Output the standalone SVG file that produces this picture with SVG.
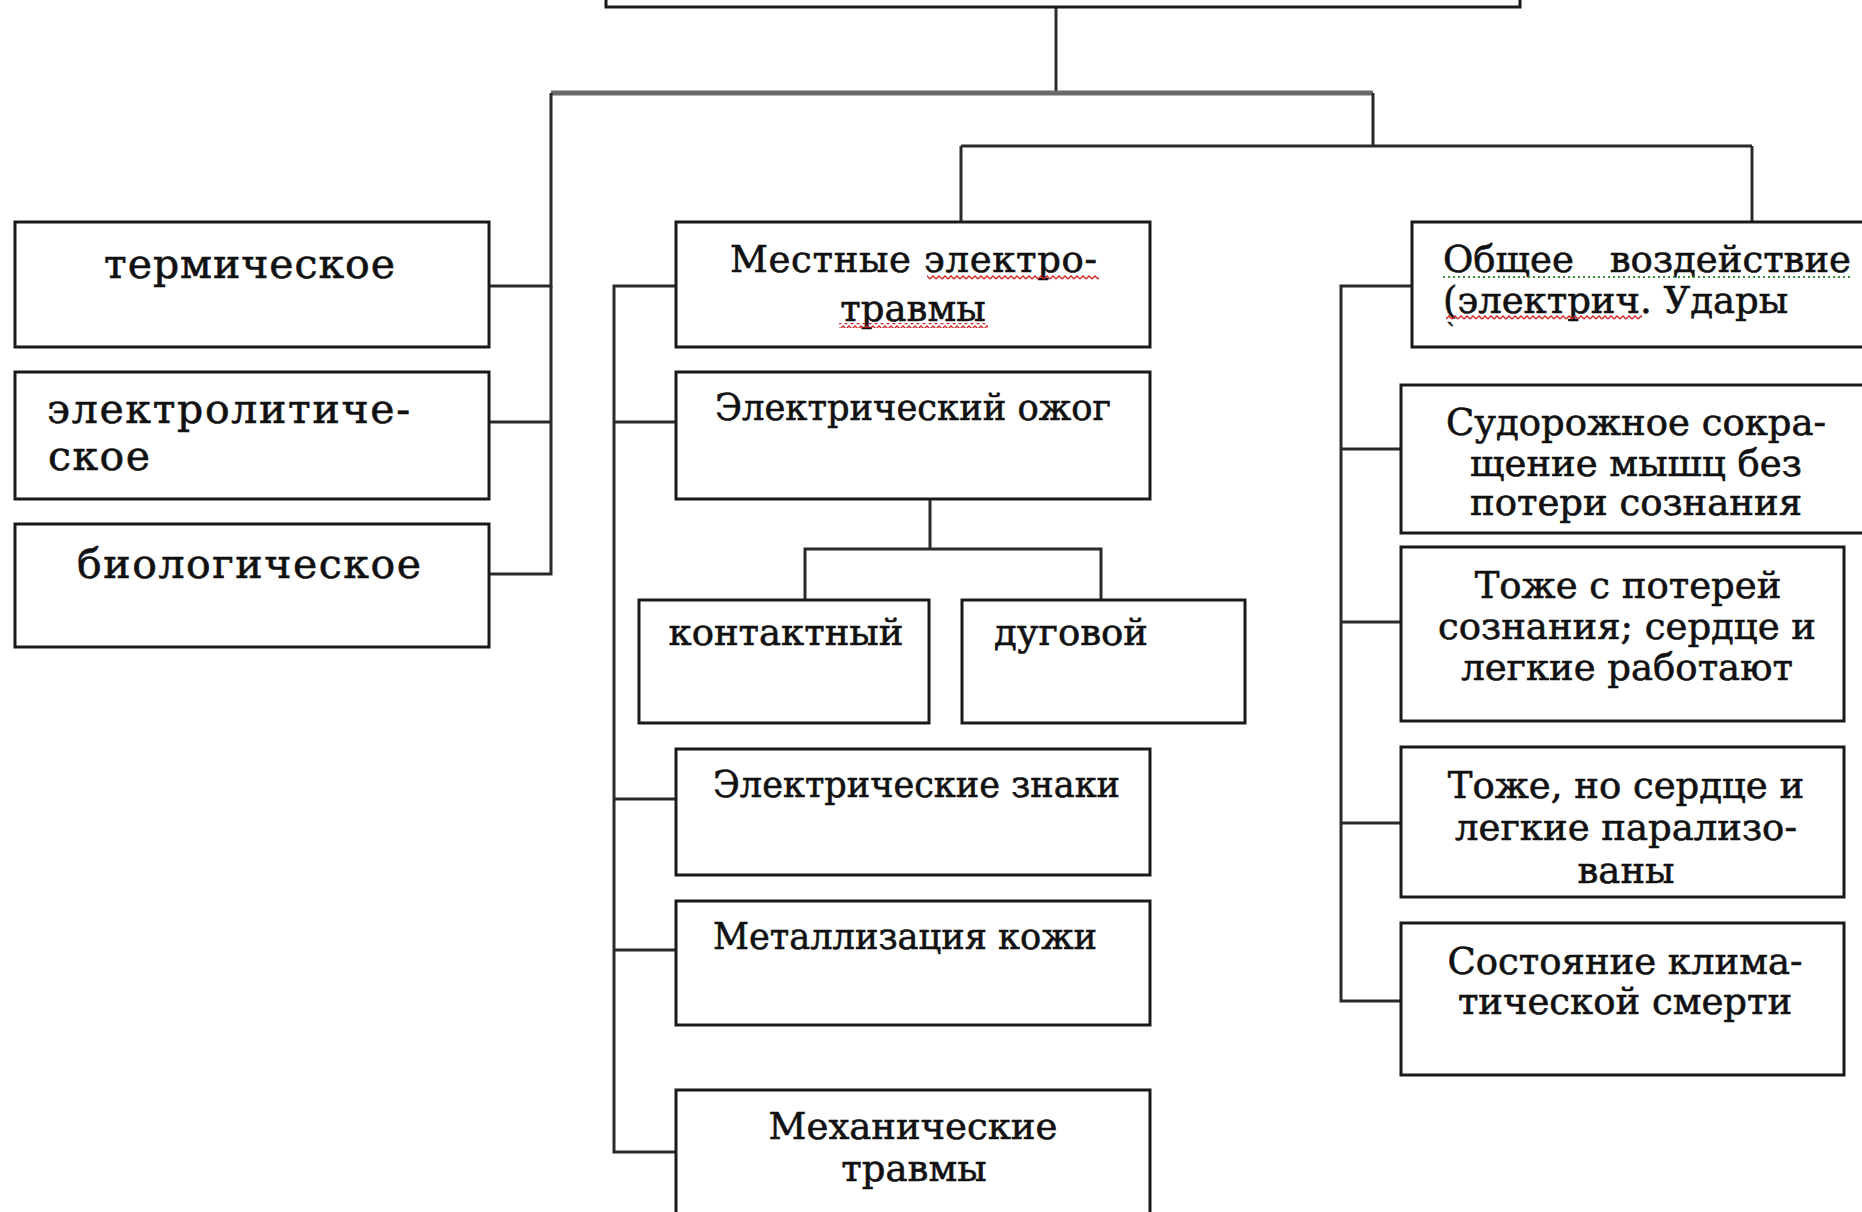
<svg xmlns="http://www.w3.org/2000/svg" width="1862" height="1212" viewBox="0 0 1862 1212">
<style>
.box{fill:#fff;stroke:#1a1a1a;stroke-width:3}
.ln{fill:none;stroke:#2a2a2a;stroke-width:3}
.lg{fill:none;stroke:#6a6a6a;stroke-width:5}
text{font-family:"DejaVu Serif","Liberation Serif",serif;font-size:37px;fill:#111;stroke:#111;stroke-width:0.6}
.big{font-size:41px}
.c{text-anchor:middle}
.e{text-anchor:end}
.red{fill:url(#wavyRed)}
.grn{fill:none;stroke:#3a8a3a;stroke-width:2;stroke-dasharray:2 3}
</style>
<defs>
<pattern id="wavyRed" width="6" height="5" patternUnits="userSpaceOnUse">
<path d="M0 4 L3 1 L6 4" fill="none" stroke="#d02020" stroke-width="1.3"/>
</pattern>
</defs>
<rect width="1862" height="1212" fill="#fff"/>
<g id="connectors">
<line class="ln" x1="1056" y1="7" x2="1056" y2="93"/>
<line class="lg" x1="551" y1="93" x2="1373" y2="93"/>
<polyline class="ln" points="489,286 551,286 551,93"/>
<polyline class="ln" points="489,422 551,422"/>
<polyline class="ln" points="489,574 551,574 551,286"/>
<line class="ln" x1="1373" y1="93" x2="1373" y2="146"/>
<line class="ln" x1="961" y1="146" x2="1752" y2="146"/>
<line class="ln" x1="961" y1="146" x2="961" y2="222"/>
<line class="ln" x1="1752" y1="146" x2="1752" y2="222"/>
<polyline class="ln" points="676,286 614,286 614,1152 676,1152"/>
<line class="ln" x1="614" y1="422" x2="676" y2="422"/>
<line class="ln" x1="614" y1="799" x2="676" y2="799"/>
<line class="ln" x1="614" y1="950" x2="676" y2="950"/>
<line class="ln" x1="930" y1="499" x2="930" y2="549"/>
<polyline class="ln" points="805,600 805,549 1101,549 1101,600"/>
<polyline class="ln" points="1412,286 1341,286 1341,1001 1401,1001"/>
<line class="ln" x1="1341" y1="449" x2="1401" y2="449"/>
<line class="ln" x1="1341" y1="622" x2="1401" y2="622"/>
<line class="ln" x1="1341" y1="823" x2="1401" y2="823"/>
</g>
<g id="top"><rect class="box" x="606" y="-20" width="914" height="27"/></g>
<g id="termicheskoe"><rect class="box" x="15" y="222" width="474" height="125"/><text class="big" x="104" y="278" textLength="291" lengthAdjust="spacing">термическое</text></g>
<g id="elektroliticheskoe"><rect class="box" x="15" y="372" width="474" height="127"/><text class="big" x="47" y="423" textLength="363" lengthAdjust="spacing">электролитиче-</text><text class="big" x="48" y="470" textLength="102" lengthAdjust="spacing">ское</text></g>
<g id="biologicheskoe"><rect class="box" x="15" y="524" width="474" height="123"/><text class="big" x="77" y="578" textLength="344" lengthAdjust="spacing">биологическое</text></g>
<g id="mestnye"><rect class="box" x="676" y="222" width="474" height="125"/><text x="730" y="272" textLength="367" lengthAdjust="spacing">Местные электро-</text><text class="c" x="913" y="321">травмы</text><rect class="red" x="927" y="275" width="172" height="5"/><rect class="red" x="839" y="323" width="149" height="5"/></g>
<g id="ozhog"><rect class="box" x="676" y="372" width="474" height="127"/><text x="715" y="420" textLength="396" lengthAdjust="spacingAndGlyphs">Электрический ожог</text></g>
<g id="kontaktny"><rect class="box" x="639" y="600" width="290" height="123"/><text class="c" x="786" y="645">контактный</text></g>
<g id="dugovoy"><rect class="box" x="962" y="600" width="283" height="123"/><text x="994" y="645">дуговой</text></g>
<g id="znaki"><rect class="box" x="676" y="749" width="474" height="126"/><text x="713" y="797" textLength="407" lengthAdjust="spacingAndGlyphs">Электрические знаки</text></g>
<g id="metallizatsiya"><rect class="box" x="676" y="901" width="474" height="124"/><text x="713" y="949" textLength="384" lengthAdjust="spacingAndGlyphs">Металлизация кожи</text></g>
<g id="mekhanicheskie"><rect class="box" x="676" y="1090" width="474" height="140"/><text class="c" x="913" y="1139">Механические</text><text class="c" x="914" y="1181">травмы</text></g>
<g id="obshchee"><rect class="box" x="1412" y="222" width="470" height="125"/><text x="1443" y="272">Общее</text><text class="e" x="1851" y="272">воздействие</text><text x="1443" y="313">(электрич. Удары</text><text x="1446" y="340" style="font-size:22px">`</text><line class="grn" x1="1443" y1="277" x2="1853" y2="277"/><rect class="red" x="1446" y="315" width="196" height="5"/></g>
<g id="sudorozhnoe"><rect class="box" x="1401" y="385" width="481" height="148"/><text class="c" x="1636" y="435">Судорожное сокра-</text><text class="c" x="1636" y="476">щение мышц без</text><text class="c" x="1636" y="515">потери сознания</text></g>
<g id="poterey"><rect class="box" x="1401" y="547" width="443" height="174"/><text class="c" x="1628" y="598">Тоже с потерей</text><text class="c" x="1627" y="639">сознания; сердце и</text><text class="c" x="1627" y="680">легкие работают</text></g>
<g id="paralizovany"><rect class="box" x="1401" y="747" width="443" height="150"/><text class="c" x="1626" y="798">Тоже, но сердце и</text><text class="c" x="1626" y="840">легкие парализо-</text><text class="c" x="1626" y="883">ваны</text></g>
<g id="klimaticheskoy"><rect class="box" x="1401" y="923" width="443" height="152"/><text class="c" x="1625" y="974">Состояние клима-</text><text class="c" x="1625" y="1014">тической смерти</text></g>
</svg>
